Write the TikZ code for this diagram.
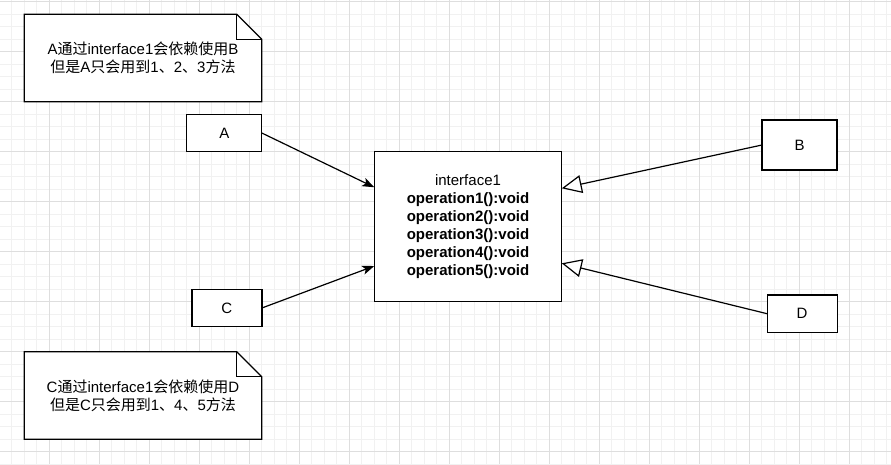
\documentclass[tikz,border=0pt]{standalone}
\usepackage{fontspec}
\setmainfont{Liberation Sans}
\newfontfamily\cjkfont{Noto Sans CJK SC}
\newcommand\cjktxt[1]{{\cjkfont #1}}
\usetikzlibrary{arrows.meta,calc}
\definecolor{gridmajor}{RGB}{222,222,222}
\definecolor{gridminor}{RGB}{241,241,241}
\pgfdeclarelayer{gridlayer}
\pgfdeclarelayer{shapelayer}
\pgfsetlayers{gridlayer,shapelayer,main}
\begin{document}
\begin{tikzpicture}[x=1pt,y=-1pt,
  every node/.style={font=\fontsize{15}{18}\selectfont, inner sep=0pt, outer sep=0pt},
  umlbox/.style={draw=black, fill=white, line width=1.2pt, rectangle, align=center},
  notebox/.style={rectangle, align=center},
  noteline/.style={draw=black, line width=1.2pt, line join=miter},
  dep/.style={line width=1.2pt, -{Stealth[length=12pt,width=9pt,inset=3pt]}},
  impl/.style={line width=1.2pt, -{Triangle[open,length=20pt,width=18pt,fill=white]}},
]
\useasboundingbox (0,0) rectangle (891,464);
\begin{pgfonlayer}{gridlayer}
\fill[white] (0,0) rectangle (891,464);
\foreach \i in {0,...,71} {\draw[gridminor, line width=1pt] ({11.8+12.5*\i},0) -- ++(0,464);}
\foreach \j in {0,...,37} {\draw[gridminor, line width=1pt] (0,{1.7+12.5*\j}) -- ++(891,0);}
\foreach \i in {0,...,18} {\draw[gridmajor, line width=1pt] ({-0.7+50*\i},0) -- ++(0,464);}
\foreach \j in {0,...,9} {\draw[gridmajor, line width=1pt] (0,{1.7+50*\j}) -- ++(891,0);}
\end{pgfonlayer}

% notes
\node[notebox, minimum width=237.5pt, minimum height=87.5pt] (noteA) at (143,58)
  {A\cjktxt{通过}interface1\cjktxt{会依赖使用}B\\\cjktxt{但是}A\cjktxt{只会用到}1\cjktxt{、}2\cjktxt{、}3\cjktxt{方法}};
\node[notebox, minimum width=237.5pt, minimum height=87.5pt] (noteC) at (143,395.5)
  {C\cjktxt{通过}interface1\cjktxt{会依赖使用}D\\\cjktxt{但是}C\cjktxt{只会用到}1\cjktxt{、}4\cjktxt{、}5\cjktxt{方法}};
\begin{pgfonlayer}{shapelayer}
\foreach \n in {noteA,noteC} {
  \draw[noteline, fill=white] (\n.north west) -- ([xshift=-25pt]\n.north east) -- ([yshift=-25pt]\n.north east) -- (\n.south east) -- (\n.south west) -- cycle;
  \draw[noteline] ([xshift=-25pt]\n.north east) -- ([xshift=-25pt,yshift=-25pt]\n.north east) -- ([yshift=-25pt]\n.north east);
}
\end{pgfonlayer}

% boxes
\node[umlbox, minimum width=75pt, minimum height=37.5pt] (a) at (224.3,133) {A};
\node[umlbox, minimum width=70pt, minimum height=37.5pt] (c) at (226.9,308) {C};
\node[umlbox, minimum width=75pt, minimum height=50pt] (b) at (799.5,145) {B};
\node[umlbox, minimum width=70pt, minimum height=37.5pt] (d) at (802.1,313.7) {D};
\node[umlbox, minimum width=187.5pt, minimum height=150pt] (iface) at (468,226.7)
  {interface1\\\textbf{operation1():void}\\\textbf{operation2():void}\\\textbf{operation3():void}\\\textbf{operation4():void}\\\textbf{operation5():void}};

\coordinate (ia) at ($(iface.north west)!0.237!(iface.south west)$);
\coordinate (ic) at ($(iface.north west)!0.762!(iface.south west)$);
\coordinate (ib) at ($(iface.north east)!0.244!(iface.south east)$);
\coordinate (id) at ($(iface.north east)!0.744!(iface.south east)$);

\draw[dep] (a.east) -- (ia);
\draw[dep] (c.east) -- (ic);
\draw[impl] (b.west) -- (ib);
\draw[impl] (d.west) -- (id);
\end{tikzpicture}
\end{document}
